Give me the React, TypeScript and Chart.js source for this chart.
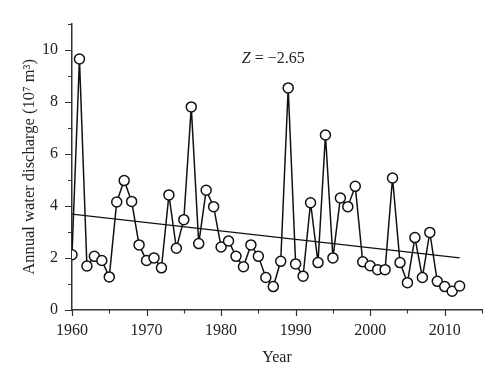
import React, { useEffect, useRef } from "react";
import { Chart, registerables } from "chart.js";

Chart.register(...registerables);

const years: number[] = [
  1960, 1961, 1962, 1963, 1964, 1965, 1966, 1967, 1968, 1969,
  1970, 1971, 1972, 1973, 1974, 1975, 1976, 1977, 1978, 1979,
  1980, 1981, 1982, 1983, 1984, 1985, 1986, 1987, 1988, 1989,
  1990, 1991, 1992, 1993, 1994, 1995, 1996, 1997, 1998, 1999,
  2000, 2001, 2002, 2003, 2004, 2005, 2006, 2007, 2008, 2009,
  2010, 2011, 2012,
];
const discharge: number[] = [
  2.12, 9.64, 1.69, 2.06, 1.9, 1.27, 4.15, 4.97, 4.17, 2.5,
  1.9, 2.0, 1.62, 4.42, 2.37, 3.47, 7.8, 2.55, 4.6, 3.97,
  2.42, 2.65, 2.06, 1.66, 2.5, 2.06, 1.25, 0.9, 1.87, 8.53,
  1.77, 1.3, 4.12, 1.82, 6.72, 2.0, 4.3, 3.97, 4.75, 1.85,
  1.7, 1.55, 1.55, 5.07, 1.82, 1.05, 2.78, 1.25, 2.98, 1.1,
  0.9, 0.72, 0.92,
];
const trendYears: number[] = [1960, 2012];
const trendValues: number[] = [3.68, 2.0];
const xTickValues: number[] = [1960, 1970, 1980, 1990, 2000, 2010];
const xMinorTicks: number[] = [1965, 1975, 1985, 1995, 2005, 2015];
const yTickValues: number[] = [0, 2, 4, 6, 8, 10];
const yMinorTicks: number[] = [1, 3, 5, 7, 9, 11];
const annotation = { x: 1987, y: 9.63, label: "Z", text: " = \u22122.65" };

const FONT = "'Liberation Serif', 'Times New Roman', serif";

const tickPlugin = {
  id: "tickMarks",
  afterDraw(chart: any) {
    const { ctx, scales } = chart;
    const xs = scales.x;
    const ys = scales.y;
    ctx.save();
    ctx.strokeStyle = "#333";
    ctx.lineWidth = 1.2;
    const bottom = ys.getPixelForValue(0);
    const left = xs.getPixelForValue(1960);
    ctx.beginPath();
    xTickValues.forEach((v) => {
      const px = Math.round(xs.getPixelForValue(v)) + 0.5;
      ctx.moveTo(px, bottom);
      ctx.lineTo(px, bottom + 6);
    });
    xMinorTicks.forEach((v) => {
      const px = Math.round(xs.getPixelForValue(v)) + 0.5;
      ctx.moveTo(px, bottom);
      ctx.lineTo(px, bottom + 3.5);
    });
    yTickValues.forEach((v) => {
      const py = Math.round(ys.getPixelForValue(v)) + 0.5;
      ctx.moveTo(left, py);
      ctx.lineTo(left - 7, py);
    });
    yMinorTicks.forEach((v) => {
      const py = Math.round(ys.getPixelForValue(v)) + 0.5;
      ctx.moveTo(left, py);
      ctx.lineTo(left - 4, py);
    });
    ctx.stroke();

    // annotation
    const ax = xs.getPixelForValue(annotation.x);
    const ay = ys.getPixelForValue(annotation.y);
    ctx.fillStyle = "#222";
    ctx.textBaseline = "middle";
    ctx.font = `italic 16px ${FONT}`;
    const w1 = ctx.measureText(annotation.label).width;
    ctx.font = `16px ${FONT}`;
    const w2 = ctx.measureText(annotation.text).width;
    const start = ax - (w1 + w2) / 2;
    ctx.font = `italic 16px ${FONT}`;
    ctx.textAlign = "left";
    ctx.fillText(annotation.label, start, ay);
    ctx.font = `16px ${FONT}`;
    ctx.fillText(annotation.text, start + w1, ay);
    ctx.restore();
  },
};

export default function App() {
  const ref = useRef<HTMLCanvasElement | null>(null);

  useEffect(() => {
    if (!ref.current) return;
    const chart = new Chart(ref.current, {
      type: "line",
      data: {
        datasets: [
          {
            data: years.map((y, i) => ({ x: y, y: discharge[i] })),
            borderColor: "#111",
            borderWidth: 1.5,
            pointRadius: 5,
            pointBackgroundColor: "#fff",
            pointBorderColor: "#111",
            pointBorderWidth: 1.5,
            tension: 0,
          },
          {
            data: trendYears.map((y, i) => ({ x: y, y: trendValues[i] })),
            borderColor: "#111",
            borderWidth: 1.3,
            pointRadius: 0,
            tension: 0,
          },
        ],
      },
      options: {
        animation: false,
        responsive: false,
        maintainAspectRatio: false,
        layout: { padding: { left: 0, right: 18, top: 17, bottom: 0 } },
        plugins: { legend: { display: false }, tooltip: { enabled: false } },
        scales: {
          x: {
            type: "linear",
            min: 1960,
            max: 2015,
            afterBuildTicks: (s: any) => {
              s.ticks = xTickValues.map((v) => ({ value: v }));
            },
            afterFit: (s: any) => {
              s.height = 74;
            },
            grid: { display: true, drawOnChartArea: false, drawTicks: false },
            border: { display: true, color: "#333", width: 1.5 },
            ticks: {
              color: "#222",
              font: { family: FONT, size: 16 },
              padding: 11,
              maxRotation: 0,
              callback: (v: any) => String(v),
            },
            title: {
              display: true,
              text: "Year",
              color: "#222",
              font: { family: FONT, size: 16 },
              padding: { top: 0, bottom: 17 },
            },
          },
          y: {
            type: "linear",
            min: 0,
            max: 11,
            afterBuildTicks: (s: any) => {
              s.ticks = yTickValues.map((v) => ({ value: v }));
            },
            afterFit: (s: any) => {
              s.width = 72;
            },
            grid: { display: true, drawOnChartArea: false, drawTicks: false },
            border: { display: true, color: "#333", width: 1.5 },
            ticks: {
              color: "#222",
              font: { family: FONT, size: 16 },
              padding: 14,
              callback: (v: any) => String(v),
            },
            title: {
              display: true,
              text: "Annual water discharge (10\u2077 m\u00B3)",
              color: "#222",
              font: { family: FONT, size: 16.5 },
              padding: { top: 20, bottom: 0 },
            },
          },
        },
      },
      plugins: [tickPlugin],
    });
    return () => chart.destroy();
  }, []);

  return (
    <div style={{ position: "absolute", left: 0, top: 0, width: 500, height: 384, background: "#fff" }}>
      <canvas ref={ref} width={500} height={384} style={{ width: 500, height: 384 }} />
    </div>
  );
}
